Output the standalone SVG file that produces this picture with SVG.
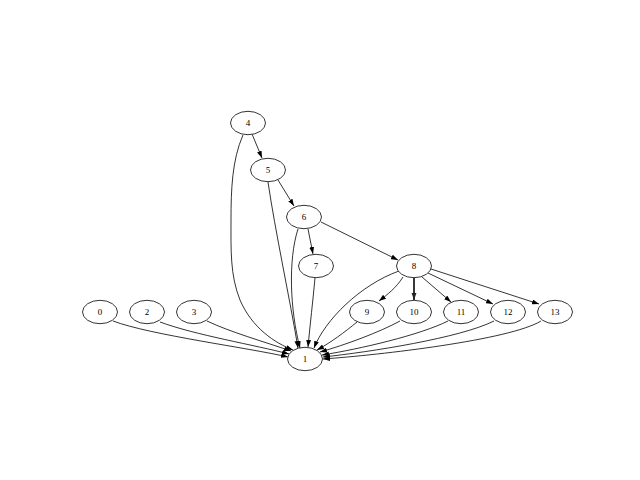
<svg xmlns="http://www.w3.org/2000/svg" width="640" height="480" viewBox="0 0 640 480">
<defs>
<marker id="ah" viewBox="0 0 10 7" refX="10" refY="3.5" markerWidth="7" markerHeight="5" markerUnits="userSpaceOnUse" orient="auto">
<path d="M0,0 L10,3.5 L0,7 z" fill="#000"/>
</marker>
<marker id="ahb" viewBox="0 0 10 7" refX="10" refY="3.5" markerWidth="7.5" markerHeight="5.5" markerUnits="userSpaceOnUse" orient="auto">
<path d="M0,0 L10,3.5 L0,7 z" fill="#222"/>
</marker>
<style>
.n ellipse{fill:#fff;stroke:#000;stroke-width:0.8}
.n text{font-family:"Liberation Serif","Times New Roman",serif;font-size:9px;text-anchor:middle;fill:#000}
.e path{fill:none;stroke:#000;stroke-width:0.8;marker-end:url(#ah)}
.e path.b{stroke:#222;stroke-width:1.8;marker-end:url(#ahb)}
</style>
</defs>
<rect width="640" height="480" fill="#fff"/>
<g id="edges" class="e">
<path d="M243,135 C232,160 231,190 231,220 C231,250 230,275 240,300 C252,328 275,343 293,350"/>
<path d="M252,134 L262,158"/>
<path d="M268,182 C275,230 290,300 298,348"/>
<path d="M278,180 L294,206"/>
<path d="M298,229 C288,260 290,310 300,348"/>
<path d="M308,229 L313,254"/>
<path d="M321,222 L398,260"/>
<path d="M315,278 C313,300 310,325 308,347"/>
<path d="M399,271 C360,285 325,320 314,348"/>
<path d="M403,277 C396,288 388,294 379,301"/>
<path class="b" d="M414,278 L414,300"/>
<path d="M422,277 L451,302"/>
<path d="M428,273 L493,304"/>
<path d="M431,269 L539,304"/>
<path d="M113,321 C150,335 250,348 288,357"/>
<path d="M160,322 C195,335 255,345 289,354"/>
<path d="M207,321 C230,332 265,342 291,351"/>
<path d="M357,322 C345,332 330,343 317,350"/>
<path d="M400,321 C380,332 345,345 320,352"/>
<path d="M448,321 C420,335 360,349 322,355"/>
<path d="M494,321 C460,338 370,352 323,357"/>
<path d="M541,321 C510,340 380,355 323,359"/>
</g>
<g id="n4" class="n"><ellipse cx="248" cy="123" rx="17.5" ry="11.7"/><text x="248" y="126">4</text></g>
<g id="n5" class="n"><ellipse cx="268" cy="170" rx="17.5" ry="11.7"/><text x="268" y="173">5</text></g>
<g id="n6" class="n"><ellipse cx="304" cy="217" rx="17.5" ry="11.7"/><text x="304" y="220">6</text></g>
<g id="n7" class="n"><ellipse cx="316" cy="266" rx="17.5" ry="11.7"/><text x="316" y="269">7</text></g>
<g id="n8" class="n"><ellipse cx="414" cy="266" rx="17.5" ry="11.7"/><text x="414" y="269">8</text></g>
<g id="n0" class="n"><ellipse cx="100" cy="312" rx="17.5" ry="11.7"/><text x="100" y="315">0</text></g>
<g id="n2" class="n"><ellipse cx="147" cy="312" rx="17.5" ry="11.7"/><text x="147" y="315">2</text></g>
<g id="n3" class="n"><ellipse cx="194" cy="312" rx="17.5" ry="11.7"/><text x="194" y="315">3</text></g>
<g id="n9" class="n"><ellipse cx="367" cy="312" rx="17.5" ry="11.7"/><text x="367" y="315">9</text></g>
<g id="n10" class="n"><ellipse cx="414" cy="312" rx="17.5" ry="11.7"/><text x="414" y="315">10</text></g>
<g id="n11" class="n"><ellipse cx="461" cy="312" rx="17.5" ry="11.7"/><text x="461" y="315">11</text></g>
<g id="n12" class="n"><ellipse cx="508" cy="312" rx="17.5" ry="11.7"/><text x="508" y="315">12</text></g>
<g id="n13" class="n"><ellipse cx="555" cy="312" rx="17.5" ry="11.7"/><text x="555" y="315">13</text></g>
<g id="n1" class="n"><ellipse cx="305" cy="359" rx="17.5" ry="11.7"/><text x="305" y="362">1</text></g>
</svg>
